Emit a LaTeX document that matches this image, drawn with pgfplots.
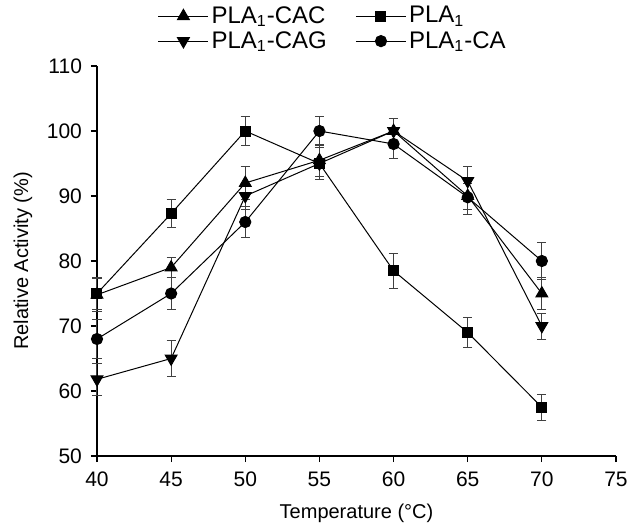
\documentclass[border=0pt]{standalone}
\usepackage{fontspec}
\setmainfont{Liberation Sans}
\usepackage{pgfplots}
\pgfplotsset{compat=1.18}

% relative activity vs temperature
\pgfplotstableread{
T    cac   ecac  pla   epla  cag   ecag  ca    eca
40   74.8  2.5   75.0  2.5   61.8  2.5   68.0  3.0
45   79.0  1.5   87.3  2.2   65.0  2.7   75.0  2.4
50   92.0  2.6   100.0 2.3   90.0  2.0   86.0  2.4
55   95.5  2.5   95.0  2.5   95.0  2.5   100.0 2.2
60   100.0 2.0   78.5  2.7   100.0 2.0   98.0  2.2
65   90.0  2.0   69.0  2.3   92.3  2.2   89.8  2.7
70   75.0  2.5   57.5  2.0   70.0  2.0   80.0  2.8
}\data

\begin{document}
\begin{tikzpicture}
\begin{axis}[
    scale only axis,
    width=259.5pt, height=195pt,
    xmin=40, xmax=75, ymin=50, ymax=110,
    xtick={40,45,...,75}, ytick={50,60,...,110},
    axis x line*=bottom, axis y line*=left,
    axis line style={line width=0.6pt},
    tick style={black, line width=0.6pt},
    tick align=outside,
    major tick length=3pt,
    clip=false,
    /pgf/number format/assume math mode=true,
    tick label style={font=\fontsize{10.5}{12}\selectfont},
    xticklabel style={yshift=-1.5pt},
    yticklabel style={xshift=-1pt},
    label style={font=\fontsize{12}{14}\selectfont},
    every axis x label/.style={at={(axis description cs:0.5,0)}, anchor=center, yshift=-28.5pt},
    every axis y label/.style={at={(axis description cs:0,0.5)}, anchor=center, xshift=-37pt, rotate=90},
    xlabel={Temperature (°C)},
    ylabel={Relative Activity (\%)},
    every axis plot/.append style={black, line width=0.5pt,
        error bars/y dir=both, error bars/y explicit,
        error bars/error bar style={black!75, line width=0.5pt},
        error bars/error mark options={rotate=90, mark size=2.3pt, black!75, line width=0.5pt}},
    legend style={at={(axis description cs:0.105,1)}, anchor=south west, yshift=4pt,
        draw=none, fill=none, font=\fontsize{12}{14}\selectfont,
        nodes={inner sep=1.3pt},
        cells={anchor=west},
        /tikz/every even column/.append style={column sep=13pt}},
    legend columns=2,
    legend image code/.code={\draw[mark repeat=2,mark phase=2]
        plot coordinates {(0cm,0cm) (0.44cm,0cm) (0.88cm,0cm)};},
]
\addplot[mark=triangle*, mark size=3.4pt] table[x=T, y=cac, y error=ecac] {\data};
\addlegendentry{PLA\textsubscript{1}-CAC}
\addplot[mark=square*, mark size=2.5pt] table[x=T, y=pla, y error=epla] {\data};
\addlegendentry{PLA\textsubscript{1}}
\addplot[mark=triangle*, mark size=3.4pt, mark options={rotate=180}] table[x=T, y=cag, y error=ecag] {\data};
\addlegendentry{PLA\textsubscript{1}-CAG}
\addplot[mark=*, mark size=2.8pt] table[x=T, y=ca, y error=eca] {\data};
\addlegendentry{PLA\textsubscript{1}-CA}
\end{axis}
\pgfresetboundingbox
\path ([shift={(-48.5pt,-35pt)}]current axis.south west) rectangle ([shift={(8pt,33pt)}]current axis.north east);
\end{tikzpicture}
\end{document}
